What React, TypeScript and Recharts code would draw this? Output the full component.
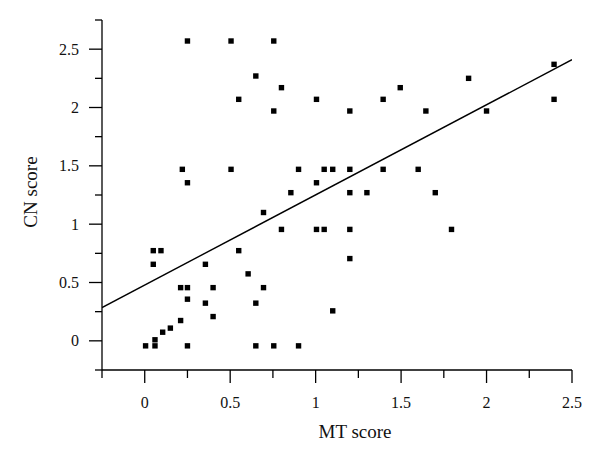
import React from "react";
import { ScatterChart, Scatter, XAxis, YAxis } from "recharts";

// MT score vs CN score
const mtScore = [
  0.25, 0.505, 0.755, 0.65, 0.8, 0.55, 1.005, 0.755, 0.22, 0.505, 0.9, 1.05, 1.1, 0.25, 1.005, 0.855,
  2.395, 1.895, 1.495, 1.395, 2.395, 1.2, 1.645, 2.0, 1.2, 1.395, 1.6, 1.2, 1.3, 1.7, 1.2, 1.795,
  1.2, 1.1, 0.695, 0.8, 1.005, 1.05, 0.05, 0.095, 0.05, 0.355, 0.55, 0.605, 0.21, 0.25, 0.4, 0.695,
  0.25, 0.355, 0.65, 0.4, 0.21, 0.15, 0.105, 0.06, 0.005, 0.06, 0.25, 0.65, 0.755, 0.9,
];
const cnScore = [
  2.57, 2.57, 2.57, 2.27, 2.17, 2.07, 2.07, 1.97, 1.47, 1.47, 1.47, 1.47, 1.47, 1.355, 1.355, 1.27,
  2.37, 2.25, 2.17, 2.07, 2.07, 1.97, 1.97, 1.97, 1.47, 1.47, 1.47, 1.27, 1.27, 1.27, 0.955, 0.955,
  0.705, 0.257, 1.1, 0.955, 0.955, 0.955, 0.773, 0.773, 0.656, 0.656, 0.773, 0.574, 0.456, 0.456, 0.456, 0.456,
  0.357, 0.323, 0.323, 0.208, 0.174, 0.109, 0.074, 0.009, -0.043, -0.043, -0.043, -0.043, -0.043, -0.043,
];

// fitted regression line end points
const fitX = [-0.25, 2.5];
const fitY = [0.285, 2.41];

const xTicks = [-0.25, 0, 0.25, 0.5, 0.75, 1, 1.25, 1.5, 1.75, 2, 2.25, 2.5];
const yTicks = [-0.25, 0, 0.25, 0.5, 0.75, 1, 1.25, 1.5, 1.75, 2, 2.25, 2.5, 2.75];

const points = mtScore.map((x, i) => ({ x, y: cnScore[i] }));
const fitLine = fitX.map((x, i) => ({ x, y: fitY[i] }));

const FONT = '"Liberation Serif", "Times New Roman", serif';
const isMajor = (v: number) => Math.abs(v * 2 - Math.round(v * 2)) < 1e-6;

function XTick(props: any) {
  const { x, y, payload } = props;
  const v = payload.value as number;
  const major = isMajor(v);
  return (
    <g>
      <line x1={x} y1={y} x2={x} y2={y + (major ? 13 : 8)} stroke="#000" strokeWidth={1.3} />
      {major && (
        <text x={x} y={y + 38} textAnchor="middle" fontSize={16} fontFamily={FONT} fill="#111">
          {String(v)}
        </text>
      )}
    </g>
  );
}

function YTick(props: any) {
  const { x, y, payload } = props;
  const v = payload.value as number;
  const major = isMajor(v);
  return (
    <g>
      <line x1={x} y1={y} x2={x - (major ? 13 : 7)} y2={y} stroke="#000" strokeWidth={1.3} />
      {major && (
        <text x={x - 23} y={y + 5.5} textAnchor="end" fontSize={16} fontFamily={FONT} fill="#111">
          {String(v)}
        </text>
      )}
    </g>
  );
}

const Square = (p: any) => <rect x={p.cx - 2.7} y={p.cy - 2.7} width={5.4} height={5.4} fill="#000" />;

export default function App() {
  return (
    <div style={{ position: "absolute", left: 0, top: 0, background: "#fff" }}>
      <ScatterChart width={600} height={465} margin={{ top: 20, right: 28, bottom: 0, left: 0 }}>
        <XAxis
          type="number"
          dataKey="x"
          domain={[-0.25, 2.5]}
          ticks={xTicks}
          interval={0}
          allowDataOverflow
          height={95}
          tickSize={0}
          tickMargin={0}
          tickLine={false}
          tick={<XTick />}
          axisLine={{ stroke: "#000", strokeWidth: 1.3 }}
          label={(lp: any) => {
            const vb = lp.viewBox;
            return (
              <text x={vb.x + vb.width / 2 + 18} y={vb.y + 68} textAnchor="middle" fontSize={19} fontFamily={FONT} fill="#111">
                MT score
              </text>
            );
          }}
        />
        <YAxis
          type="number"
          dataKey="y"
          domain={[-0.25, 2.75]}
          ticks={yTicks}
          interval={0}
          allowDataOverflow
          width={102}
          tickSize={0}
          tickMargin={0}
          tickLine={false}
          tick={<YTick />}
          axisLine={{ stroke: "#000", strokeWidth: 1.3 }}
          label={(lp: any) => {
            const vb = lp.viewBox;
            const cy = vb.y + vb.height / 2 - 3;
            return (
              <text x={37} y={cy} transform={`rotate(-90 37 ${cy})`} textAnchor="middle" fontSize={19} fontFamily={FONT} fill="#111">
                CN score
              </text>
            );
          }}
        />
        <Scatter data={fitLine} line={{ stroke: "#000", strokeWidth: 1.4 }} shape={() => <g />} isAnimationActive={false} />
        <Scatter data={points} shape={Square} isAnimationActive={false} />
      </ScatterChart>
    </div>
  );
}
